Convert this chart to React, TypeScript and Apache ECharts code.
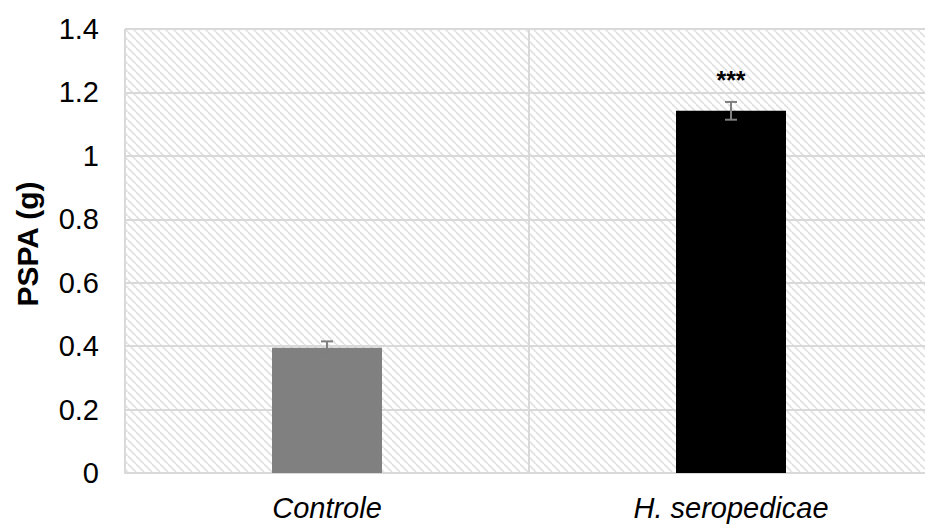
import React, { useEffect, useRef } from "react";
import * as echarts from "echarts";

const categories = ["Controle", "H. seropedicae"];
const means = [0.395, 1.142];
const errors = [0.02, 0.028];
const barColors = ["#808080", "#000000"];
const significance = ["", "***"];
const yTicks = { min: 0, max: 1.4, interval: 0.2 };

function makeHatch(): string {
  const c = document.createElement("canvas");
  const s = 8;
  c.width = s;
  c.height = s;
  const ctx = c.getContext("2d");
  if (ctx) {
    ctx.fillStyle = "#ffffff";
    ctx.fillRect(0, 0, s, s);
    ctx.strokeStyle = "#e2e2e2";
    ctx.lineWidth = 1.8;
    for (const o of [-s, 0, s]) {
      ctx.beginPath();
      ctx.moveTo(o, 0);
      ctx.lineTo(o + s, s);
      ctx.stroke();
    }
  }
  return c.toDataURL();
}

export default function App() {
  const ref = useRef<HTMLDivElement>(null);
  useEffect(() => {
    document.body.style.margin = "0";
    document.body.style.overflow = "hidden";
    if (!ref.current) return;
    const chart = echarts.init(ref.current, undefined, { renderer: "svg" });
    const font = "'Liberation Sans', Arial, sans-serif";
    chart.setOption({
      animation: false,
      grid: {
        left: 125,
        right: 0,
        top: 29,
        bottom: 52,
        show: true,
        borderWidth: 0,
        backgroundColor: { image: makeHatch(), repeat: "repeat" },
      },
      graphic: [
        {
          type: "text",
          x: 27,
          y: 244,
          rotation: Math.PI / 2,
          style: {
            text: "PSPA (g)",
            font: `bold 30px ${font}`,
            fill: "#000",
            align: "center",
            verticalAlign: "middle",
          },
        },
      ],
      xAxis: {
        type: "category",
        data: categories,
        axisLine: { show: true, lineStyle: { color: "#d9d9d9", width: 2 } },
        axisTick: { show: false },
        splitLine: {
          show: true,
          interval: (index: number) => index < categories.length,
          lineStyle: { color: "#d9d9d9", width: 2 },
        },
        axisLabel: {
          margin: 20,
          fontFamily: font,
          fontSize: 29,
          fontStyle: "italic",
          color: "#000",
        },
      },
      yAxis: {
        type: "value",
        min: yTicks.min,
        max: yTicks.max,
        interval: yTicks.interval,
        axisLine: { show: false },
        axisTick: { show: false },
        splitLine: { show: true, lineStyle: { color: "#d9d9d9", width: 2 } },
        axisLabel: {
          margin: 26,
          fontFamily: font,
          fontSize: 29,
          color: "#000",
        },
      },
      series: [
        {
          type: "bar",
          barWidth: 110,
          data: means.map((v, i) => ({
            value: v,
            itemStyle: { color: barColors[i] },
            label: {
              show: significance[i] !== "",
              position: "top",
              distance: 18,
              formatter: significance[i],
              fontFamily: font,
              fontSize: 25,
              fontWeight: "bold",
              color: "#000",
            },
          })),
        },
        {
          type: "custom",
          z: 10,
          data: means.map((v, i) => [i, v, errors[i]]),
          renderItem: (params: any, api: any) => {
            const x = api.value(0);
            const m = api.value(1);
            const e = api.value(2);
            const top = api.coord([x, m + e]);
            const bot = api.coord([x, m - e]);
            const hw = 6;
            const st = { stroke: "#7f7f7f", lineWidth: 2 };
            return {
              type: "group",
              children: [
                { type: "line", shape: { x1: top[0], y1: top[1], x2: bot[0], y2: bot[1] }, style: st },
                { type: "line", shape: { x1: top[0] - hw, y1: top[1], x2: top[0] + hw, y2: top[1] }, style: st },
                { type: "line", shape: { x1: bot[0] - hw, y1: bot[1], x2: bot[0] + hw, y2: bot[1] }, style: st },
              ],
            };
          },
        },
      ],
    });
    return () => chart.dispose();
  }, []);
  return (
    <div style={{ width: 925, height: 525, overflow: "hidden" }}>
      <div ref={ref} style={{ width: 933, height: 525 }} />
    </div>
  );
}
